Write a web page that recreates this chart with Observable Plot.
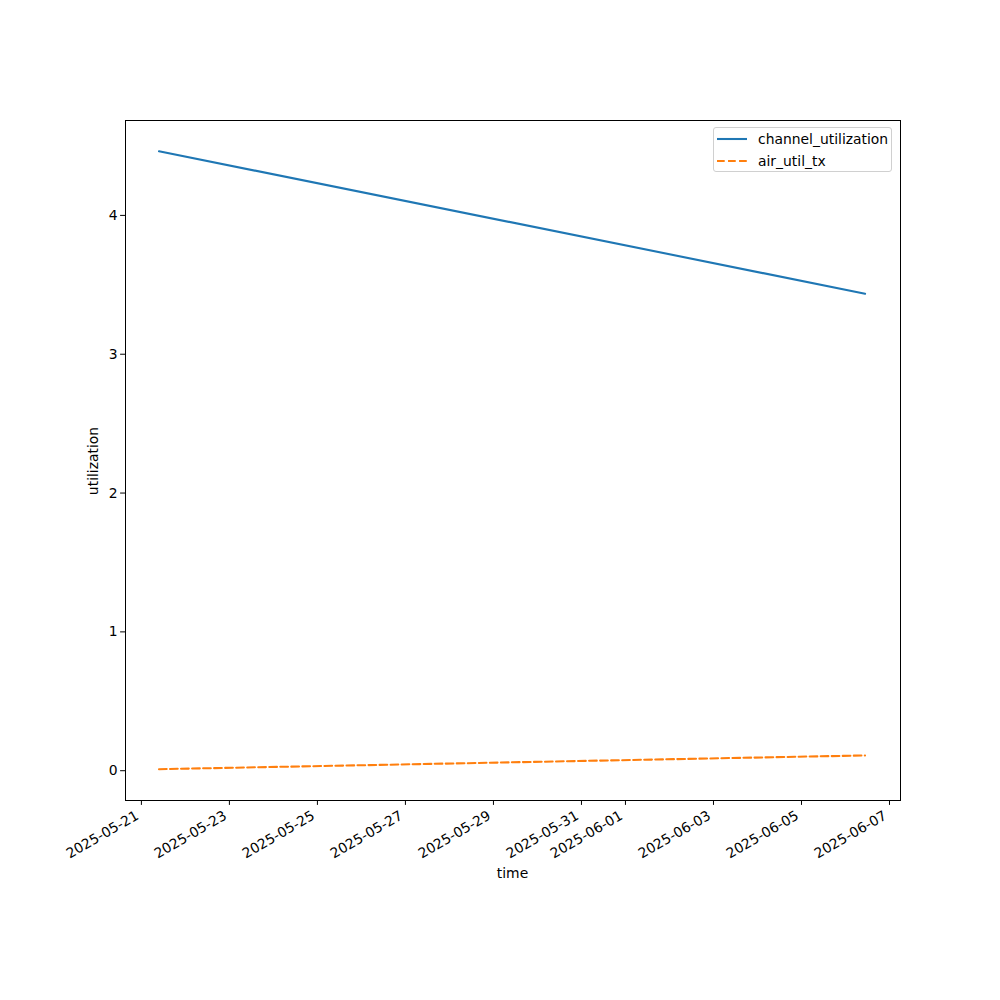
<!DOCTYPE html>
<html>
<head>
<meta charset="utf-8">
<script src="https://cdn.jsdelivr.net/npm/d3@7"></script>
<script src="https://cdn.jsdelivr.net/npm/@observablehq/plot@0.6"></script>
<style>
  body { margin: 0; background: #fff; }
  #wrap { position: relative; width: 1000px; height: 1000px; font-family: "DejaVu Sans", sans-serif; }
  #legend { position: absolute; left: 713px; top: 127px; width: 179px; height: 45px; border: 1px solid #d0d0d0; border-radius: 3px; background: rgba(255,255,255,0.8); font-size: 13.9px; color: #000; box-sizing: border-box; }
  .row { position: absolute; left: 0; height: 20px; display: flex; align-items: center; }
  .row svg { margin-left: 3px; margin-right: 11px; }
</style>
</head>
<body>
<div id="wrap">
  <div id="chart"></div>
  <div id="legend">
    <div class="row" style="top:1px"><svg width="30" height="4"><line x1="0" y1="2" x2="30" y2="2" stroke="#1f77b4" stroke-width="2.08"/></svg><span>channel_utilization</span></div>
    <div class="row" style="top:23px"><svg width="30" height="4"><line x1="0" y1="2" x2="30" y2="2" stroke="#ff7f0e" stroke-width="2.08" stroke-dasharray="7.7,3.33"/></svg><span>air_util_tx</span></div>
  </div>
</div>
<script>
const times = ["2025-05-21T09:36:00Z", "2025-06-06T10:40:00Z"];
const channelUtilization = [4.462, 3.436];
const airUtilTx = [0.011, 0.110];
const xTickLabels = ["2025-05-21","2025-05-23","2025-05-25","2025-05-27","2025-05-29","2025-05-31","2025-06-01","2025-06-03","2025-06-05","2025-06-07"];
const yTicks = [0, 1, 2, 3, 4];

const rowsCU = times.map((t, i) => ({time: new Date(t), value: channelUtilization[i]}));
const rowsAT = times.map((t, i) => ({time: new Date(t), value: airUtilTx[i]}));
const xTicks = xTickLabels.map(s => new Date(s + "T00:00:00Z"));

const chart = Plot.plot({
  width: 1000,
  height: 1000,
  marginLeft: 125,
  marginRight: 100,
  marginTop: 120,
  marginBottom: 200,
  style: {fontFamily: "DejaVu Sans, sans-serif", fontSize: "13.9px", color: "#000", background: "#fff"},
  x: {type: "utc", domain: [new Date("2025-05-20T15:20:00Z"), new Date("2025-06-07T06:00:00Z")]},
  y: {domain: [-0.2146, 4.6836]},
  marks: [
    Plot.line(rowsCU, {x: "time", y: "value", stroke: "#1f77b4", strokeWidth: 2.08}),
    Plot.line(rowsAT, {x: "time", y: "value", stroke: "#ff7f0e", strokeWidth: 2.08, strokeDasharray: "7.7,3.33"}),
    Plot.frame({stroke: "#000", strokeWidth: 1}),
    Plot.axisX({ticks: xTicks, tickFormat: () => "", tickSize: 4.9, label: null}),
    Plot.axisX({ticks: xTicks, tickFormat: d3.utcFormat("%Y-%m-%d"), tickRotate: -30, tickSize: 0, tickPadding: 3, dy: 11, dx: -4, label: null, fontSize: "13.9px"}),
    Plot.axisY({ticks: yTicks, tickFormat: d => String(d), tickSize: 4.9, tickPadding: 3, label: null, fontSize: "13.9px"})
  ]
});
document.getElementById("chart").appendChild(chart);

const svg = d3.select(chart);
svg.append("text").attr("x", 512.5).attr("y", 878).attr("text-anchor", "middle")
  .style("font-size", "13.9px").attr("fill", "#000").text("time");
svg.append("text").attr("transform", "translate(98,461) rotate(-90)").attr("text-anchor", "middle")
  .style("font-size", "13.9px").attr("fill", "#000").text("utilization");
</script>
</body>
</html>
